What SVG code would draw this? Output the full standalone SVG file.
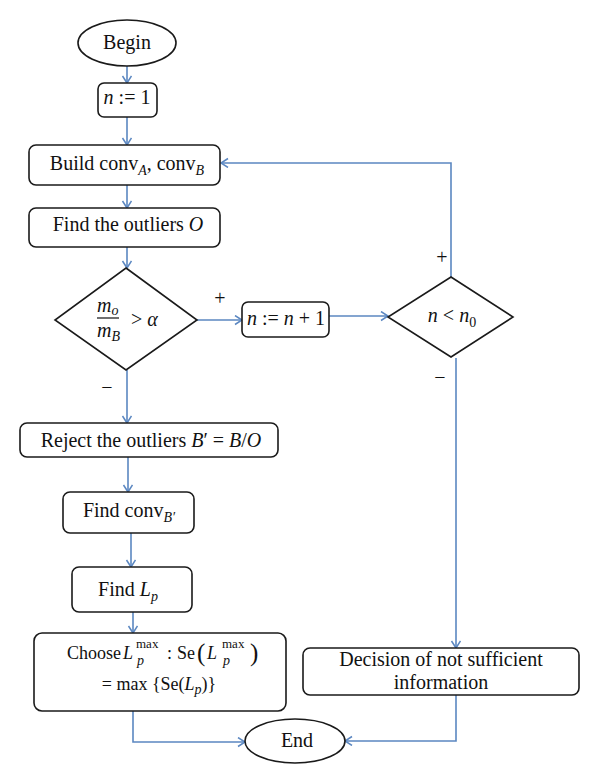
<svg xmlns="http://www.w3.org/2000/svg" width="600" height="782" viewBox="0 0 600 782">
<defs>
<style>
.box{fill:#fff;stroke:#1a1a1a;stroke-width:1.6}
.c{fill:none;stroke:#5b87c1;stroke-width:1.6}
text{font-family:"Liberation Serif","Times New Roman",serif;font-size:20px;fill:#111}
.m{text-anchor:middle}
.i{font-style:italic}
.s{font-size:14px}
.sup{font-size:13px}
.f18{font-size:18px}
.big{font-size:25px}
.lbl{font-size:20px}
</style>
<marker id="a" markerUnits="userSpaceOnUse" markerWidth="12" markerHeight="12" refX="8" refY="5" orient="auto">
<path d="M1,0.5 L8,5 L1,9.5" fill="none" stroke="#5b87c1" stroke-width="1.5"/>
</marker>
</defs>
<rect width="600" height="782" fill="#fff"/>

<g id="connectors">
<path class="c" d="M127,66 V83" marker-end="url(#a)"/>
<path class="c" d="M127,117 V145" marker-end="url(#a)"/>
<path class="c" d="M127,185 V208" marker-end="url(#a)"/>
<path class="c" d="M127,247 V268" marker-end="url(#a)"/>
<path class="c" d="M197,320 H242" marker-end="url(#a)"/>
<path class="c" d="M329,316 H388" marker-end="url(#a)"/>
<path class="c" d="M451,277 V163 H221" marker-end="url(#a)"/>
<path class="c" d="M127,370 V423" marker-end="url(#a)"/>
<path class="c" d="M128,457 V492" marker-end="url(#a)"/>
<path class="c" d="M131,533 V567" marker-end="url(#a)"/>
<path class="c" d="M133,612 V633" marker-end="url(#a)"/>
<path class="c" d="M133,711 V742 H245" marker-end="url(#a)"/>
<path class="c" d="M456,358 V648" marker-end="url(#a)"/>
<path class="c" d="M456,695 V741 H345" marker-end="url(#a)"/>
<text class="lbl m" x="220" y="305">+</text>
<text class="lbl m" x="442" y="264">+</text>
<text class="lbl m" x="107" y="394">−</text>
<text class="lbl m" x="440" y="384">−</text>
</g>

<g id="begin">
<ellipse class="box" cx="127" cy="43" rx="49" ry="23"/>
<text class="m" x="127" y="49">Begin</text>
</g>

<g id="n1">
<rect class="box" x="98" y="83" width="59" height="34" rx="6"/>
<text class="m" x="127" y="104"><tspan class="i">n</tspan> := 1</text>
</g>

<g id="build">
<rect class="box" x="29" y="145" width="191" height="40" rx="7"/>
<text class="m" x="127" y="170">Build conv<tspan class="i s" dy="5">A</tspan><tspan dy="-5">, conv</tspan><tspan class="i s" dy="5">B</tspan></text>
</g>

<g id="find-outliers">
<rect class="box" x="29" y="208" width="191" height="39" rx="7"/>
<text class="m" x="128" y="231">Find the outliers <tspan class="i">O</tspan></text>
</g>

<g id="decision1">
<polygon class="box" points="126,268 197,320 126,370 55,320"/>
<text class="i" x="97" y="312">m<tspan class="s" dy="3">o</tspan></text>
<line x1="97" y1="318" x2="119" y2="318" stroke="#111" stroke-width="1.2"/>
<text class="i" x="97" y="337">m<tspan class="s" dy="4">B</tspan></text>
<text x="131" y="326">&gt; <tspan class="i">α</tspan></text>
</g>

<g id="increment">
<rect class="box" x="242" y="302" width="87" height="35" rx="6"/>
<text class="m" x="286" y="325"><tspan class="i">n</tspan> := <tspan class="i">n</tspan> + 1</text>
</g>

<g id="decision2">
<polygon class="box" points="451,277 513,317 451,357 388,317"/>
<text class="m" x="452" y="322"><tspan class="i">n</tspan> &lt; <tspan class="i">n</tspan><tspan class="s" dy="5">0</tspan></text>
</g>

<g id="reject">
<rect class="box" x="20" y="423" width="258" height="34" rx="7"/>
<text class="m" x="151" y="447">Reject the outliers <tspan class="i">B</tspan>′ = <tspan class="i">B</tspan>/<tspan class="i">O</tspan></text>
</g>

<g id="find-conv">
<rect class="box" x="63" y="492" width="131" height="41" rx="7"/>
<text class="m" x="129" y="517">Find conv<tspan class="i s" dy="5">B′</tspan></text>
</g>

<g id="find-lp">
<rect class="box" x="72" y="567" width="120" height="45" rx="7"/>
<text class="m" x="128" y="596">Find <tspan class="i">L</tspan><tspan class="i s" dy="5">p</tspan></text>
</g>

<g id="choose">
<rect class="box" x="34" y="633" width="252" height="78" rx="8"/>
<text class="f18" x="67" y="659">Choose</text>
<text class="i f18" x="123" y="659">L</text>
<text class="sup" x="136" y="648">max</text>
<text class="i s" x="137" y="665">p</text>
<text class="f18" x="167" y="659">:</text>
<text class="f18" x="177" y="659">Se</text>
<text class="big" x="197" y="661">(</text>
<text class="i f18" x="207" y="659">L</text>
<text class="sup" x="222" y="648">max</text>
<text class="i s" x="223" y="665">p</text>
<text class="big" x="250" y="661">)</text>
<text class="m f18" x="159" y="690">= max {Se(<tspan class="i">L</tspan><tspan class="i s" dy="4">p</tspan><tspan dy="-4">)}</tspan></text>
</g>

<g id="insufficient">
<rect class="box" x="303" y="648" width="276" height="47" rx="7"/>
<text class="m" x="441" y="666">Decision of not sufficient</text>
<text class="m" x="441" y="689">information</text>
</g>

<g id="end">
<ellipse class="box" cx="295" cy="741" rx="50" ry="22"/>
<text class="m" x="297" y="747">End</text>
</g>
</svg>
